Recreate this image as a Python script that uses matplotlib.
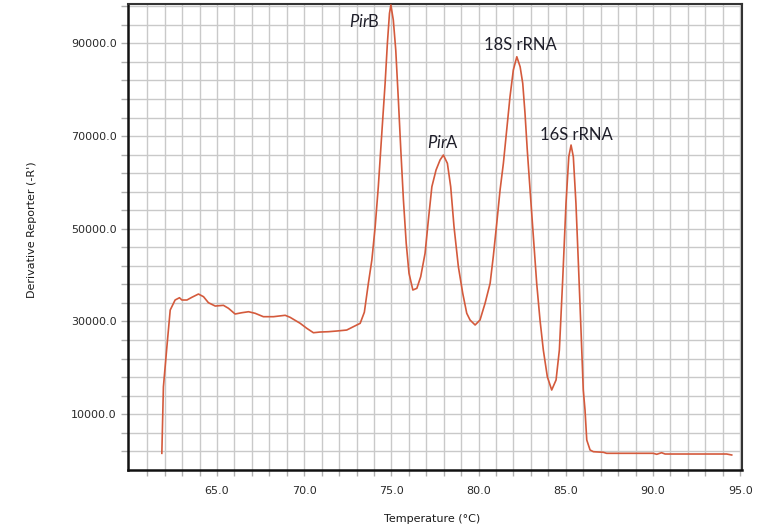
import numpy as np
import matplotlib
matplotlib.use("Agg")
from matplotlib import pyplot as plt

# melt curve values
temp_c = [61.84, 61.93, 62.13, 62.32, 62.60, 62.85, 62.99, 63.28, 63.56, 63.94,
          64.23, 64.51, 64.90, 65.37, 65.66, 66.04, 66.43, 66.81, 67.19, 67.66,
          68.24, 68.91, 69.19, 69.77, 70.15, 70.53, 70.91, 71.39, 71.87, 72.44,
          72.82, 73.21, 73.45, 73.68, 73.88, 74.07, 74.25, 74.45, 74.64, 74.77,
          74.89, 74.97, 75.11, 75.25, 75.40, 75.54, 75.69, 75.85, 76.01, 76.23,
          76.46, 76.68, 76.93, 77.12, 77.32, 77.56, 77.79, 77.98, 78.21, 78.40,
          78.59, 78.84, 79.09, 79.32, 79.51, 79.80, 80.08, 80.37, 80.66, 80.84,
          81.04, 81.23, 81.42, 81.61, 81.80, 81.99, 82.19, 82.38, 82.53, 82.66,
          82.79, 82.95, 83.14, 83.33, 83.52, 83.71, 83.94, 84.19, 84.44, 84.63,
          84.82, 85.01, 85.17, 85.30, 85.43, 85.58, 85.72, 85.87, 86.00, 86.10,
          86.20, 86.39, 86.58, 87.15, 87.34, 90.01, 90.21, 90.49, 90.69, 94.22,
          94.51]
deriv = [1550, 15900, 24550, 32470, 34630, 35120, 34630, 34630, 35210, 35920,
         35340, 34050, 33330, 33480, 32840, 31610, 31890, 32100, 31760, 31030,
         31030, 31330, 30900, 29600, 28520, 27570, 27720, 27790, 27940, 28150,
         28870, 29600, 32000, 38230, 43260, 50440, 59070, 70590, 81380, 90010,
         96480, 98300, 95040, 88570, 77780, 66990, 56200, 46860, 40390, 36790,
         37150, 39660, 44700, 51890, 59070, 62680, 64840, 65910, 64120, 59070,
         50440, 41810, 36070, 31760, 30310, 29240, 30310, 33920, 38230, 43970,
         51180, 58360, 64120, 71300, 78490, 84250, 87120, 84960, 81380, 74910,
         66990, 58360, 48280, 38230, 30310, 23840, 18080, 15210, 17370, 23840,
         38940, 55490, 65540, 68070, 65540, 55490, 42550, 28160, 15210, 10900,
         4420, 2270, 1900, 1770, 1550, 1550, 1340, 1680, 1400, 1400,
         1190]

# peak labels: (italic part, plain part, x, y)
peak_labels = [("Pir", "B", 73.44, 94820),
               ("Pir", "A", 77.96, 68720),
               ("", "18S rRNA", 82.38, 89650),
               ("", "16S rRNA", 85.58, 70230)]

x_ticks = [65, 70, 75, 80, 85, 90, 95]
y_ticks = [10000, 30000, 50000, 70000, 90000]

plt.rcParams['font.family'] = ['DejaVu Sans']
plt.rcParams['mathtext.fontset'] = 'custom'
plt.rcParams['mathtext.it'] = 'Lato:italic'
plt.rcParams['mathtext.rm'] = 'Lato'

fig = plt.figure(figsize=(7.69, 5.30), dpi=100)
ax = fig.add_axes([128 / 769, 60 / 530, 614 / 769, 466 / 530])

ax.plot(temp_c, deriv, color="#d45a3c", linewidth=1.2, zorder=3)

ax.set_xlim(59.9, 95.1)
ax.set_ylim(-2050, 98500)

# grid every 1 degree and every 4000 units
ax.set_xticks(np.arange(61, 95), minor=True)
ax.set_yticks(np.arange(2000, 98001, 4000), minor=True)
ax.set_xticks(x_ticks)
ax.set_yticks(y_ticks)
ax.set_xticklabels([f"{v:.1f}" for v in x_ticks])
ax.set_yticklabels([f"{v:.1f}" for v in y_ticks])
ax.grid(True, which="both", color="#c9c9c9", linewidth=1.0, zorder=0)
ax.set_axisbelow(True)

ax.tick_params(axis="both", which="both", direction="out", color="#b0b0b0",
               width=1.0, labelsize=8, labelcolor="#2a2a2a")
ax.tick_params(axis="y", which="both", length=5, pad=3)
ax.tick_params(axis="x", which="both", length=4.5, pad=7)

for side in ["left", "bottom"]:
    ax.spines[side].set_color("#111111")
    ax.spines[side].set_linewidth(1.8)
for side in ["top", "right"]:
    ax.spines[side].set_color("#333333")
    ax.spines[side].set_linewidth(1.5)

fig.text(432 / 769, 1 - 519 / 530, "Temperature (\u00b0C)", ha="center", va="center",
         fontsize=8, color="#1a1a1a")
fig.text(32 / 769, 1 - 230 / 530, "Derivative Reporter (-R')", ha="center", va="center",
         rotation=90, fontsize=8, color="#1a1a1a")

for it, plain, lx, ly in peak_labels:
    s = (r"$\mathit{" + it + "}$" if it else "") + plain
    ax.text(lx, ly, s, ha="center", va="center", fontsize=12,
            family="Lato", color="#1f1f2a", zorder=4)

fig.savefig("out.png", dpi=100)
